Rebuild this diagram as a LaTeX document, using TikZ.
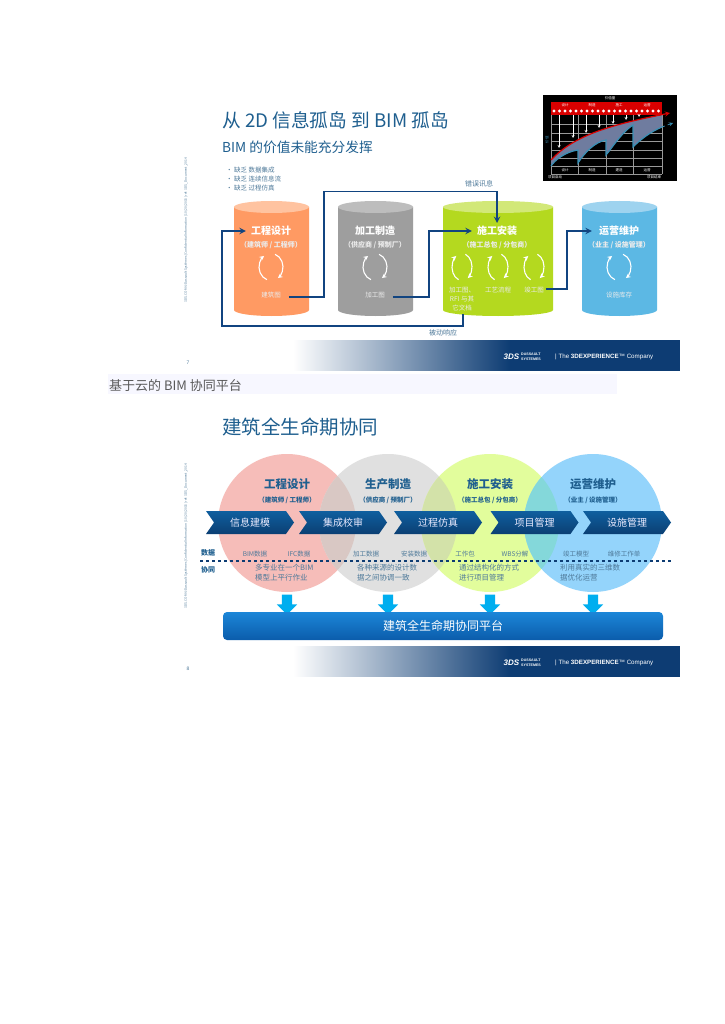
\documentclass[tikz,border=0pt]{standalone}
\usepackage{fontspec}
\setmainfont{Noto Sans CJK SC}
\newfontfamily\latinfont{Liberation Sans}
\usepackage{xcolor}
\usetikzlibrary{shapes,shapes.symbols,arrows,positioning,calc}
\definecolor{dsblue}{HTML}{0D3C73}
\definecolor{titleblue}{HTML}{1F5F8F}
\definecolor{greyblue}{HTML}{4F7A9A}
\definecolor{linkblue}{HTML}{114480}
\definecolor{chevrontop}{HTML}{0F5F9F}
\definecolor{chevronlow}{HTML}{0B3F73}
\definecolor{platformtop}{HTML}{1C86D8}
\definecolor{platformlow}{HTML}{0B5CAB}
\definecolor{downblue}{HTML}{00AEEF}
\definecolor{gapfill}{HTML}{6F7C9F}
\begin{document}
\begin{tikzpicture}[x=1pt, y=-1pt, >=stealth, inner sep=0pt,
  link/.style={->, line width=1.8pt, draw=linkblue},
  loopline/.style={->, line width=1.1pt, draw=white},
  headtext/.style={font=\bfseries\fontsize{10}{10}\selectfont, text=white},
  roletext/.style={font=\bfseries\fontsize{7}{7}\selectfont, text=white!92!black},
  smalltext/.style={font=\fontsize{6.5}{9}\selectfont, text=white!92!black, align=center},
  chevron/.style={signal, signal from=west, signal to=east, signal pointer angle=110, minimum width=88pt, minimum height=23pt,
    top color=chevrontop, bottom color=chevronlow, font=\fontsize{10}{10}\selectfont, text=white!92!blue},
  circlehead/.style={font=\bfseries\fontsize{11.5}{12}\selectfont, text=titleblue},
  circlerole/.style={font=\bfseries\fontsize{6.5}{7}\selectfont, text=titleblue},
  datatext/.style={font=\fontsize{6.5}{7}\selectfont, text=greyblue},
  notetext/.style={font=\fontsize{7.5}{10}\selectfont, text=greyblue, align=left, anchor=west},
  sidetext/.style={font=\fontsize{3.2}{4}\selectfont, text=greyblue, rotate=90},
  downarrow/.style={single arrow, single arrow head extend=5pt, single arrow tip angle=90, inner ysep=5pt, inner xsep=0pt, minimum height=20pt, fill=downblue, rotate=-90},
  thumbtext/.style={font=\fontsize{3.5}{4}\selectfont, text=white}]
\useasboundingbox (0,0) rectangle (724,1024);
\fill[white] (0,0) rectangle (724,1024);

% first slide
\node[anchor=west, font=\fontsize{18.7}{20}\selectfont, text=titleblue] (title1) at (222,120) {从 2D 信息孤岛 到 BIM 孤岛};
\node[anchor=west, font=\fontsize{13.7}{14}\selectfont, text=titleblue] (subtitle1) at (222,147) {BIM 的价值未能充分发挥};
\node[anchor=north west, font=\fontsize{6.5}{8.8}\selectfont, text=greyblue, align=left] (bullets) at (226,167) {• 缺乏 数据集成\\• 缺乏 连续信息流\\• 缺乏 过程仿真};
\node[sidetext] (side1) at (186,230) {3DS.COM © Dassault Systèmes | Confidential Information | 10/20/2015 | ref: 3DS\_Document\_2014};

% tanks
\foreach \xa/\xb/\body/\lid in {234/309/FF9A63/FFC3A0, 338/413/9E9E9E/BDBDBD, 443/553/B4D91F/D2E878, 582/657/5CB8E4/9ED3EF} {
  \definecolor{tankbody}{HTML}{\body}
  \definecolor{tanklid}{HTML}{\lid}
  \fill[tankbody] (\xa,207) -- (\xa,310) arc[start angle=180, end angle=360, x radius={(\xb-\xa)/2*1pt}, y radius=6pt] -- (\xb,207) -- cycle;
  \fill[tanklid] ({(\xa+\xb)/2},207) ellipse[x radius={(\xb-\xa)/2*1pt}, y radius=6pt];
}

% tank texts
\node[headtext] (design) at (271,231) {工程设计};
\node[roletext] (designrole) at (271,245) {（建筑师 / 工程师）};
\node[smalltext] (drawing) at (271,295.5) {建筑图};
\node[headtext] (make) at (375,231) {加工制造};
\node[roletext] (makerole) at (375,245) {（供应商 / 预制厂）};
\node[smalltext] (shopdrawing) at (375,295.5) {加工图};
\node[headtext] (build) at (497,231) {施工安装};
\node[roletext] (buildrole) at (497,245) {（施工总包 / 分包商）};
\node[smalltext] (rfi) at (462,299) {加工图、\\RFI 与其\\它文档};
\node[smalltext] (process) at (498,290) {工艺流程};
\node[smalltext] (asbuilt) at (534,290) {竣工图};
\node[headtext] (run) at (619,231) {运营维护};
\node[roletext] (runrole) at (619,245) {（业主 / 设施管理）};
\node[smalltext] (assets) at (619,295.5) {设施库存};

% round arrows
\foreach \cx/\cy/\rx in {271/267/12, 375/267/12, 462/267/10, 498/267/10, 534/267/10, 619/267/12} {
  \draw[loopline] ([shift={(250:\rx pt and 13.5pt)}]\cx,\cy) arc[start angle=250, end angle=125, x radius=\rx pt, y radius=13.5pt];
  \draw[loopline] ([shift={(70:\rx pt and 13.5pt)}]\cx,\cy) arc[start angle=70, end angle=-55, x radius=\rx pt, y radius=13.5pt];
}

% connectors
\coordinate (errortop) at (324,191.5);
\coordinate (errorend) at (497,223);
\coordinate (shopturn) at (429,231);
\coordinate (builtturn) at (567,231);
\coordinate (tankbottom) at (463,314);
\coordinate (backturn) at (222,326);
\draw[link] (drawing.east) ++(8,1.5) -| (errortop) -| (errorend);
\draw[link] (shopdrawing.east) ++(8,1.5) -| (shopturn) -- ([xshift=-5pt]build.west);
\draw[link] (asbuilt.east) ++(2,-1) -| (builtturn) -- ([xshift=-7pt]run.west);
\draw[link] (tankbottom) |- (backturn) |- ([xshift=-5pt]design.west);
\node[font=\fontsize{7}{7}\selectfont, text=greyblue] (errornote) at (479,184) {错误讯息};
\node[font=\fontsize{7}{7}\selectfont, text=greyblue] (replynote) at (443,333) {被动响应};

% thumbnail
\fill[black] (543,95) rectangle (677,181);
\foreach \gx in {551,578,606,633,662} { \draw[white!60!black, line width=.4pt] (\gx,115) -- (\gx,174); }
\foreach \gy in {124,133,141,150,158,166,174} { \draw[white!60!black, line width=.4pt] (551,\gy) -- (662,\gy); }
\fill[red!85!black] (551,102) rectangle (662,115);
\foreach \dx in {0,...,19} { \fill[white] ({554+\dx*5.5},111) circle[radius=1.7pt]; }
\fill[gapfill] (551,160) .. controls (575,134) and (615,124) .. (662,115) -- (662,127) .. controls (650,132) and (640,140) .. (633,147) -- (633,125) .. controls (622,132) and (612,148) .. (606,155) -- (606,140) .. controls (595,142) and (585,152) .. (578,163) -- (578,150) .. controls (565,152) and (555,160) .. (551,166) -- cycle;
\foreach \ax/\ay in {559/148, 573/138, 586/133, 599/128, 613/124, 626/120, 639/117} { \draw[->, white, line width=.4pt] (\ax,115) -- (\ax,\ay); }
\draw[->, red!85!black, line width=1.2pt] (551,160) .. controls (575,134) and (615,124) .. (670,113);
\draw[cyan!70!black, line width=1.2pt] (551,166) .. controls (555,160) and (565,152) .. (578,150) -- (578,163) .. controls (585,152) and (595,142) .. (606,140) -- (606,155) .. controls (612,148) and (622,132) .. (633,125) -- (633,147) .. controls (640,140) and (650,132) .. (662,127);
\draw[->, dashed, cyan!70!black, line width=.8pt] (662,127) -- (673,123);
\node[thumbtext] (thumbtitle) at (610,98) {价值量};
\node[thumbtext] (thumbvalue) at (547,140) [rotate=90, text=cyan!70!black] {价值};
\foreach \lx/\la/\lb in {565/设计/设计, 592/制造/制造, 619/施工/建造, 647/运营/运营} {
  \node[thumbtext] at (\lx,105) {\la};
  \node[thumbtext] at (\lx,170) {\lb};
}
\node[thumbtext] (thumbstart) at (555,177) {项目启动};
\node[thumbtext] (thumbend) at (654,177) {项目结束};

% footers
\foreach \fy/\pg in {340/7, 646/8} {
  \shade[left color=white, right color=dsblue] (293,\fy) rectangle (510,\fy+30.5);
  \fill[dsblue] (510,\fy) rectangle (680,\fy+31);
  \node[anchor=east, font=\latinfont\bfseries\itshape\fontsize{8}{8}\selectfont, text=white] at (519.5,\fy+17) {3DS};
  \node[anchor=west, align=left, font=\latinfont\bfseries\fontsize{3.6}{5}\selectfont, text=white] at (521,\fy+17) {DASSAULT\\SYSTEMES};
  \node[anchor=west, font=\latinfont\fontsize{6.2}{7}\selectfont, text=white] at (555,\fy+17) {| The \textbf{3DEXPERIENCE}™ Company};
  \node[font=\latinfont\fontsize{5}{5}\selectfont, text=greyblue] at (188,\fy+23) {\pg};
}

% text strip between the slides
\fill[blue!3!white] (108,374) rectangle (617,394);
\node[anchor=west, font=\fontsize{13}{13}\selectfont, text=black!65] (cloudline) at (109,386) {基于云的 BIM 协同平台};

% second slide
\node[anchor=west, font=\fontsize{19.5}{20}\selectfont, text=titleblue] (title2) at (222,427) {建筑全生命期协同};
\node[sidetext] (side2) at (186,536) {3DS.COM © Dassault Systèmes | Confidential Information | 10/20/2015 | ref: 3DS\_Document\_2014};
\foreach \cx/\tint in {287/F6BDB9, 388/E0E0E0, 490/E2FD9C, 593/94D4FB} {
  \definecolor{disc}{HTML}{\tint}
  \fill[disc] (\cx,523) circle[radius=69pt];
}
\foreach \cl/\cr/\tint in {287/388/D9C8C4, 388/490/D3E2A9, 490/593/84D8DA} {
  \definecolor{disc}{HTML}{\tint}
  \begin{scope}
    \clip (\cl,523) circle[radius=69pt];
    \fill[disc] (\cr,523) circle[radius=69pt];
  \end{scope}
}
\node[circlehead] (phase1) at (287,484) {工程设计};
\node[circlerole] (role1) at (287,500) {（建筑师 / 工程师）};
\node[circlehead] (phase2) at (388,484) {生产制造};
\node[circlerole] (role2) at (388,500) {（供应商 / 预制厂）};
\node[circlehead] (phase3) at (490,484) {施工安装};
\node[circlerole] (role3) at (490,500) {（施工总包 / 分包商）};
\node[circlehead] (phase4) at (593,484) {运营维护};
\node[circlerole] (role4) at (593,500) {（业主 / 设施管理）};

\node[chevron] (model) at (250,522.5) {信息建模};
\node[chevron] (check) at (343,522.5) {集成校审};
\node[chevron] (simulate) at (438,522.5) {过程仿真};
\node[chevron] (project) at (534.5,522.5) {项目管理};
\node[chevron] (facility) at (627,522.5) {设施管理};

\node[font=\bfseries\fontsize{7}{7}\selectfont, text=titleblue] (datalabel) at (208,553) {数据};
\node[font=\bfseries\fontsize{7}{7}\selectfont, text=titleblue] (worklabel) at (208,570) {协同};
\coordinate (dashstart) at (200,561);
\coordinate (dashend) at (671,561);
\draw[dashed, line width=1.2pt, dsblue] (dashstart) -- (dashend);

\node[datatext] (d1) at (255,554) {BIM数据};
\node[datatext] (d2) at (299,554) {IFC数据};
\node[datatext] (d3) at (366,554) {加工数据};
\node[datatext] (d4) at (414,554) {安装数据};
\node[datatext] (d5) at (465,554) {工作包};
\node[datatext] (d6) at (515,554) {WBS分解};
\node[datatext] (d7) at (576,554) {竣工模型};
\node[datatext] (d8) at (624,554) {维修工作单};
\node[notetext] (n1) at (255,573) {多专业在一个BIM\\模型上平行作业};
\node[notetext] (n2) at (357,573) {各种来源的设计数\\据之间协调一致};
\node[notetext] (n3) at (459,573) {通过结构化的方式\\进行项目管理};
\node[notetext] (n4) at (560,573) {利用真实的三维数\\据优化运营};

\node[downarrow] (down1) at (287,602) {};
\node[downarrow] (down2) at (388,602) {};
\node[downarrow] (down3) at (490,602) {};
\node[downarrow] (down4) at (593,602) {};

\node[rounded corners=4pt, minimum width=440pt, minimum height=28pt, top color=platformtop, bottom color=platformlow, text=white, font=\fontsize{12}{12}\selectfont] (platform) at (443,626) {建筑全生命期协同平台};
\end{tikzpicture}
\end{document}
